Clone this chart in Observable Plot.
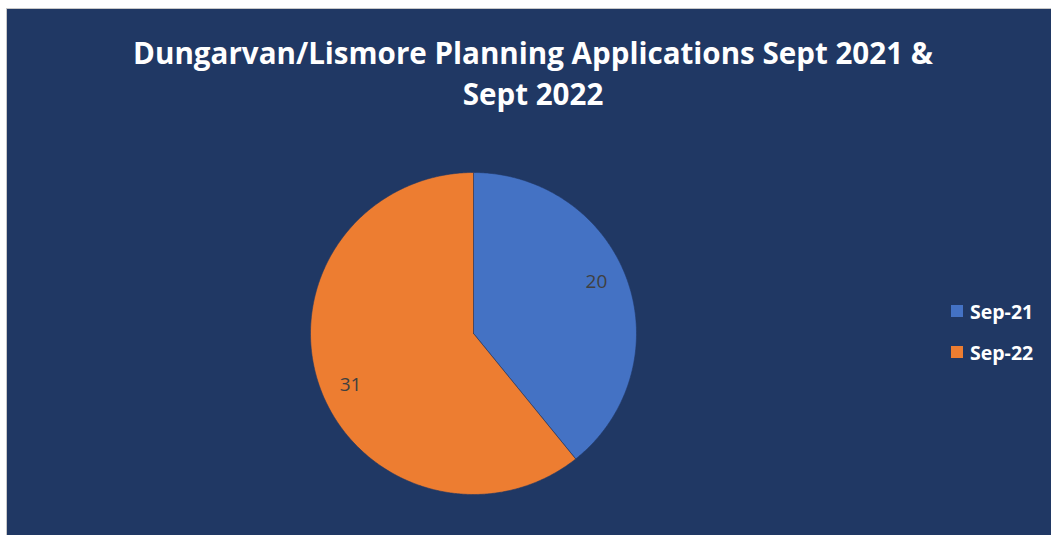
<!DOCTYPE html>
<html>
<head>
<meta charset="utf-8">
<script src="https://cdn.jsdelivr.net/npm/d3@7"></script>
<script src="https://cdn.jsdelivr.net/npm/@observablehq/plot@0.6"></script>
<style>
  html, body { margin: 0; padding: 0; background: #ffffff; }
  #root { position: relative; width: 1051px; height: 535px; overflow: hidden; font-family: "Open Sans", sans-serif; }
  #frame { position: absolute; left: 6px; top: 8px; width: 1045px; height: 527px; background: #203864;
           border-left: 1px solid #c8c8c8; border-top: 1px solid #c8c8c8; box-sizing: border-box; }
  #title { position: absolute; left: 0; width: 1066px; top: 32px; text-align: center; color: #ffffff;
           font-weight: 700; line-height: 41px; white-space: nowrap; }
  #chart { position: absolute; left: 0; top: 125px; }
  #legend { position: absolute; left: 951px; top: 0; }
  .item { position: absolute; left: 0; display: flex; align-items: center; white-space: nowrap; }
  .sw { width: 12px; height: 12px; margin-right: 7px; }
  .lt { color: #ffffff; font-weight: 700; font-size: 19.5px; }
</style>
</head>
<body>
<div id="root">
  <div id="frame"></div>
  <div id="title"></div>
  <div id="chart"></div>
  <div id="legend"></div>
</div>
<script>
// ---- data ----
const titleLines = ["Dungarvan/Lismore Planning Applications Sept 2021 &", "Sept 2022"];
const categories = ["Sep-21", "Sep-22"];
const values = [20, 31];
const colors = ["#4472C4", "#ED7D31"];

// ---- title (fit to the reference width) ----
const titleEl = document.getElementById("title");
titleEl.innerHTML = titleLines.join("<br>");
const cv = document.createElement("canvas").getContext("2d");
cv.font = "700 100px 'Open Sans'";
const w100 = cv.measureText(titleLines[0]).width;
titleEl.style.fontSize = (800 / w100 * 100).toFixed(2) + "px";

// ---- pie geometry from data ----
const arcs = d3.pie().sort(null).value(d => d)(values);
const slices = arcs.map((a, i) => {
  const pts = [{x: 0, y: 0}];
  const n = Math.max(2, Math.ceil((a.endAngle - a.startAngle) / (Math.PI / 360)));
  for (let k = 0; k <= n; k++) {
    const t = a.startAngle + (a.endAngle - a.startAngle) * k / n;
    pts.push({x: Math.sin(t), y: Math.cos(t)});
  }
  pts.push({x: 0, y: 0});
  return {key: categories[i], color: colors[i], pts};
});
const labelRadius = 0.82, labelTurn = -0.065;
const labels = arcs.map((a, i) => {
  const m = (a.startAngle + a.endAngle) / 2 + labelTurn;
  return {x: labelRadius * Math.sin(m), y: labelRadius * Math.cos(m), text: String(values[i])};
});

const plot = Plot.plot({
  width: 1051,
  height: 410,
  marginLeft: 310,
  marginRight: 415,
  marginTop: 47,
  marginBottom: 41,
  x: {domain: [-1, 1], axis: null},
  y: {domain: [-1, 1], axis: null},
  style: {background: "transparent", fontFamily: "Open Sans, sans-serif"},
  marks: [
    ...slices.map(s => Plot.line(s.pts, {x: "x", y: "y", fill: s.color, stroke: "#203864", strokeWidth: 0.6, curve: "linear"})),
    Plot.text(labels, {x: "x", y: "y", text: "text", fill: "#404040", fontSize: 19})
  ]
});
document.getElementById("chart").appendChild(plot);

// ---- legend ----
const legendTops = [311, 352];
const lg = document.getElementById("legend");
categories.forEach((c, i) => {
  const it = document.createElement("div");
  it.className = "item";
  it.style.top = (legendTops[i] - 12) + "px";
  it.style.height = "24px";
  it.innerHTML = `<div class="sw" style="background:${colors[i]}"></div><span class="lt">${c}</span>`;
  lg.appendChild(it);
});
</script>
</body>
</html>
